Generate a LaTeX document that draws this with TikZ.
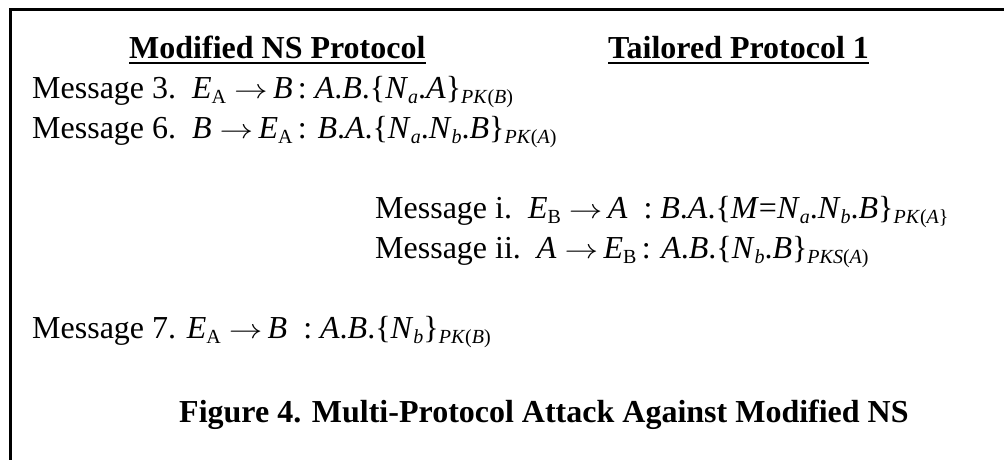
\documentclass[tikz,border=0pt]{standalone}
\usepackage{fontspec}
\usepackage{graphicx}
\setmainfont{Liberation Serif}
\newcommand\sbs[1]{\raisebox{-5pt}{\fontsize{20}{20}\selectfont #1}}
\newcommand\iv[1]{\textit{#1}}
\newcommand\arr{\ \scalebox{1.35}[1.1]{\ensuremath{\rightarrow}}\,}
\tikzset{
  txt/.style={anchor=base west, inner sep=0pt, font=\fontsize{32}{40}\selectfont},
  hdr/.style={txt, font=\fontsize{32}{40}\selectfont\bfseries},
  frame/.style={line width=3pt, line cap=rect},
  uline/.style={line width=2.5pt}
}
\begin{document}
\begin{tikzpicture}[x=1pt,y=-1pt]
\useasboundingbox (0,0) rectangle (1004,459);
\coordinate (tl) at (10.5,9.5);
\coordinate (tr) at (1004,9.5);
\coordinate (bl) at (10.5,459);
\draw[frame] (tr) -- (tl) -- (bl);

\node[hdr] (h1) at (129,58) {Modified NS Protocol};
\node[hdr] (h2) at (608,58) {Tailored Protocol 1};
\draw[uline] ([yshift=-5pt]h1.base west) -- ([yshift=-5pt]h1.base east);
\draw[uline] ([yshift=-5pt]h2.base west) -- ([yshift=-5pt]h2.base east);

\node[txt] (m3) at (32,98) {Message 3.\ \ \iv{E}\sbs{A}\arr\iv{B}\,: \iv{A}.\iv{B}.\{\iv{N}\sbs{\iv{a}}.\iv{A}\}\sbs{\iv{PK}(\iv{B})}};
\node[txt] (m6) at (32,138) {Message 6.\ \ \iv{B}\arr\iv{E}\sbs{A}\,: \iv{B}.\iv{A}.\{\iv{N}\sbs{\iv{a}}.\iv{N}\sbs{\iv{b}}.\iv{B}\}\sbs{\iv{PK}(\iv{A})}};
\node[txt] (mi) at (375,218) {Message i.\ \ \iv{E}\sbs{B}\arr\iv{A}\ \ : \iv{B}.\iv{A}.\{\iv{M}=\iv{N}\sbs{\iv{a}}.\iv{N}\sbs{\iv{b}}.\iv{B}\}\sbs{\iv{PK}(\iv{A}\}}};
\node[txt] (mii) at (375,258) {Message ii.\ \ \iv{A}\arr\iv{E}\sbs{B}\,: \iv{A}.\iv{B}.\{\iv{N}\sbs{\iv{b}}.\iv{B}\}\sbs{\iv{PKS}(\iv{A})}};
\node[txt] (m7) at (32,338) {Message 7. \iv{E}\sbs{A}\arr\iv{B}\ \ : \iv{A}.\iv{B}.\{\iv{N}\sbs{\iv{b}}\}\sbs{\iv{PK}(\iv{B})}};

\node[hdr] (fig) at (179,422) {Figure 4. Multi-Protocol Attack Against Modified NS};
\end{tikzpicture}
\end{document}
